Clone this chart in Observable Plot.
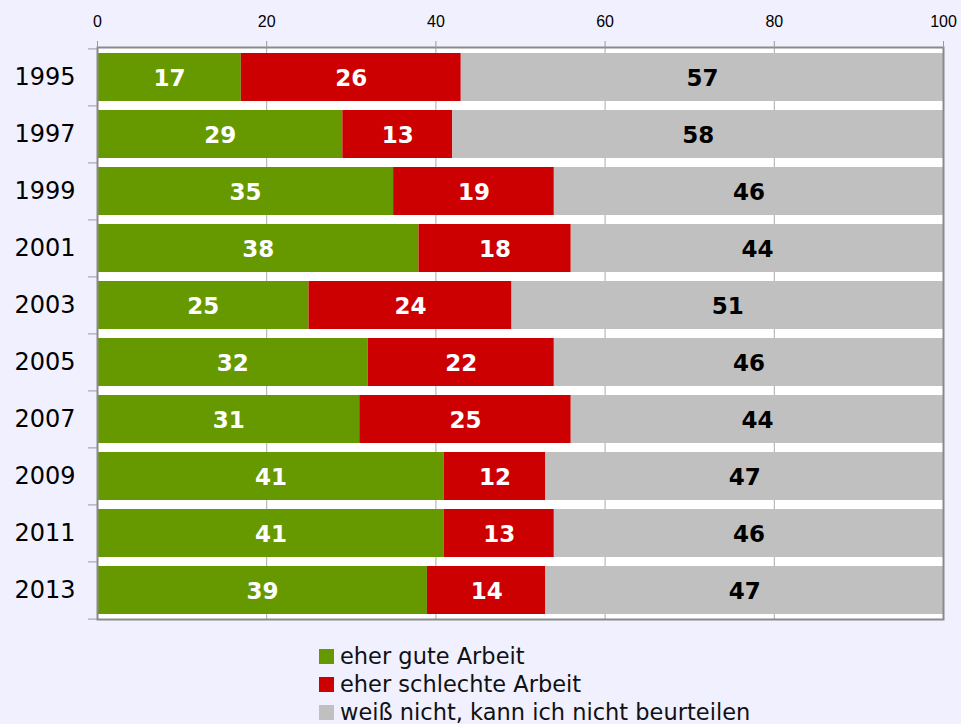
<!DOCTYPE html>
<html>
<head>
<meta charset="utf-8">
<script src="https://cdn.jsdelivr.net/npm/d3@7"></script>
<script src="https://cdn.jsdelivr.net/npm/@observablehq/plot@0.6"></script>
<style>
  html, body { margin: 0; padding: 0; background: #f0f0ff; }
  body { width: 961px; height: 724px; overflow: hidden; position: relative; font-family: "DejaVu Sans", Verdana, sans-serif; }
  #chart svg { display: block; background: transparent; }
  #chart svg .xtick text { font-size: 16px !important; font-family: "Liberation Sans", Arial, sans-serif !important; }
  .legend { position: absolute; left: 319px; top: 642px; }
  .legend .row { position: absolute; left: 0; display: flex; align-items: center; height: 28px; font-size: 22.5px; color: #111; white-space: nowrap; }
  .legend .sw { width: 15px; height: 15px; margin-right: 6px; flex: none; }
</style>
</head>
<body>
<div id="chart"></div>
<script>
const years = ["1995","1997","1999","2001","2003","2005","2007","2009","2011","2013"];
const categories = ["eher gute Arbeit", "eher schlechte Arbeit", "weiß nicht, kann ich nicht beurteilen"];
const good = [17, 29, 35, 38, 25, 32, 31, 41, 41, 39];
const bad = [26, 13, 19, 18, 24, 22, 25, 12, 13, 14];
const unknown = [57, 58, 46, 44, 51, 46, 44, 47, 46, 47];
const xTicks = [0, 20, 40, 60, 80, 100];
const colors = ["#669900", "#cc0000", "#c0c0c0"];
const labelColors = ["white", "white", "black"];

const series = [good, bad, unknown];
const rows = [];
years.forEach((y, i) => {
  let acc = 0;
  series.forEach((s, k) => {
    rows.push({year: y, cat: categories[k], k, value: s[i], x1: acc, x2: acc + s[i]});
    acc += s[i];
  });
});

const H = 640, mTop = 47, mBottom = 21;
const step = (H - mTop - mBottom) / years.length;

const chart = Plot.plot({
  width: 961,
  height: H,
  marginTop: mTop,
  marginBottom: mBottom,
  marginLeft: 97,
  marginRight: 18,
  style: {fontFamily: "DejaVu Sans, Verdana, sans-serif", background: "transparent", color: "black"},
  x: {domain: [0, 100]},
  y: {domain: years, paddingInner: 0.16, paddingOuter: 0.08},
  marks: [
    Plot.frame({fill: "white", stroke: null}),
    Plot.gridX({ticks: [20, 40, 60, 80], stroke: "#aaa", strokeOpacity: 1, strokeWidth: 1}),
    Plot.barX(rows, {x1: "x1", x2: "x2", y: "year", fill: d => colors[d.k]}),
    Plot.text(rows, {x: d => (d.x1 + d.x2) / 2, y: "year", text: d => String(d.value),
      fill: d => labelColors[d.k], fontSize: 23, fontWeight: "bold", dy: 1}),
    Plot.frame({stroke: "#8a8a8a", strokeWidth: 2}),
    Plot.axisX({anchor: "top", ticks: xTicks, tickSize: 7, text: null, stroke: "#999", label: null}),
    Plot.text(xTicks, {x: d => d, text: d => String(d), frameAnchor: "top", lineAnchor: "bottom", dy: -21,
      fontSize: 16, fill: "black", className: "xtick"}),
    Plot.axisY({tickSize: 0, tickPadding: 22, fontSize: 24, label: null}),
    Plot.axisY({ticks: years, text: null, tickSize: 9, dy: -step / 2, stroke: "#999", label: null}),
    Plot.axisY({ticks: [years[years.length - 1]], text: null, tickSize: 9, dy: step / 2, stroke: "#999", label: null})
  ]
});
document.getElementById("chart").appendChild(chart);

const legend = document.createElement("div");
legend.className = "legend";
const rowTops = [0, 28, 56];
categories.forEach((c, k) => {
  const row = document.createElement("div");
  row.className = "row";
  row.style.top = rowTops[k] + "px";
  const sw = document.createElement("span");
  sw.className = "sw";
  sw.style.background = colors[k];
  const t = document.createElement("span");
  t.textContent = c;
  row.appendChild(sw);
  row.appendChild(t);
  legend.appendChild(row);
});
document.body.appendChild(legend);
</script>
</body>
</html>
